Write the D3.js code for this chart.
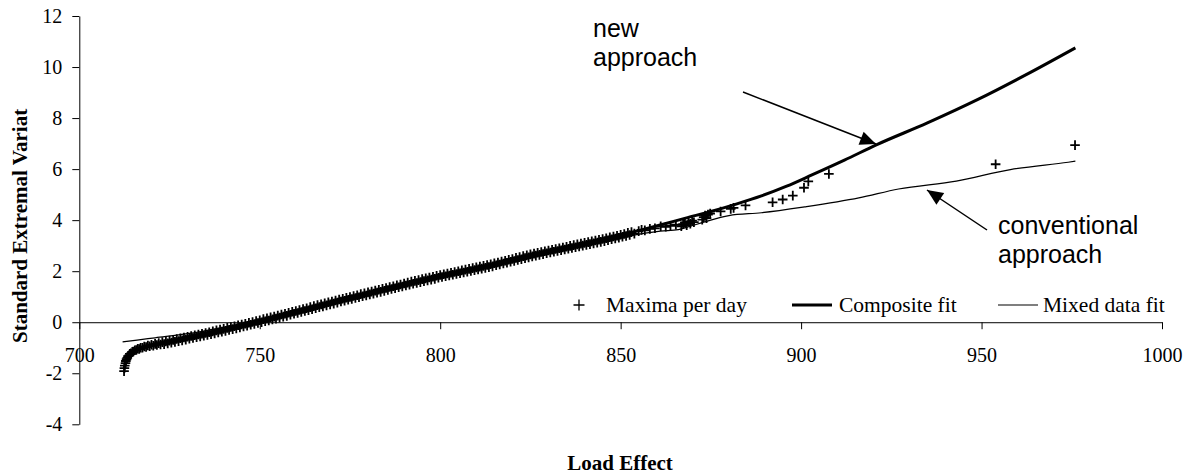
<!DOCTYPE html>
<html><head><meta charset="utf-8">
<script src="https://cdn.jsdelivr.net/npm/d3@7"></script>
<style>
html,body{margin:0;padding:0;background:#fff;}
svg{display:block;}
</style></head>
<body><svg id="chart" width="1195" height="475"></svg>
<script>
const xTicks = [700, 750, 800, 850, 900, 950, 1000];
const yTicks = [-4, -2, 0, 2, 4, 6, 8, 10, 12];
const xTitle = "Load Effect";
const yTitle = "Standard Extremal Variat";
const legendLabels = ["Maxima per day", "Composite fit", "Mixed data fit"];
const annotationNew = ["new", "approach"];
const annotationConv = ["conventional", "approach"];

// Maxima per day: [load effect, standard extremal variate]
const maximaPerDay = [
[712.4,-1.92],[712.5,-1.8],[712.6,-1.7],[712.8,-1.6],[712.9,-1.52],[713.1,-1.45],[713.3,-1.4],[713.5,-1.33],[713.8,-1.3],[714.0,-1.24],
[714.3,-1.22],[714.7,-1.16],[715.0,-1.15],[715.4,-1.1],[715.8,-1.09],[716.2,-1.04],[716.6,-1.05],[717.0,-1.0],[717.5,-1.0],[718.0,-0.95],
[718.5,-0.97],[719.0,-0.91],[719.5,-0.94],[720.0,-0.88],[720.5,-0.92],[721.0,-0.85],[721.5,-0.89],[722.0,-0.82],[722.5,-0.87],
[723,-0.78],[723.5,-0.86],[724,-0.75],[724.5,-0.83],[725,-0.72],[725.5,-0.80],[726,-0.69],[726.5,-0.77],[727,-0.66],[727.5,-0.74],
[728,-0.63],[728.5,-0.71],[729,-0.60],[729.5,-0.68],[730,-0.57],[730.5,-0.65],[731,-0.54],[731.5,-0.62],[732,-0.51],[732.5,-0.59],
[733,-0.48],[733.5,-0.56],[734,-0.45],[734.5,-0.53],[735,-0.42],[735.5,-0.50],[736,-0.39],[736.5,-0.47],[737,-0.36],[737.5,-0.44],
[738,-0.32],[738.5,-0.40],[739,-0.29],[739.5,-0.37],[740,-0.26],[740.5,-0.34],[741,-0.22],[741.5,-0.30],[742,-0.19],[742.5,-0.27],
[743,-0.16],[743.5,-0.24],[744,-0.12],[744.5,-0.20],[745,-0.09],[745.5,-0.17],[746,-0.06],[746.5,-0.14],[747,-0.02],[747.5,-0.10],
[748,0.01],[748.5,-0.07],[749,0.05],[749.5,-0.03],[750,0.08],[750.5,0.00],[751,0.12],[751.5,0.04],[752,0.15],[752.5,0.07],
[753,0.19],[753.5,0.11],[754,0.22],[754.5,0.14],[755,0.26],[755.5,0.18],[756,0.30],[756.5,0.22],[757,0.33],[757.5,0.25],
[758,0.37],[758.5,0.29],[759,0.41],[759.5,0.33],[760,0.44],[760.5,0.36],[761,0.48],[761.5,0.40],[762,0.52],[762.5,0.44],
[763,0.55],[763.5,0.47],[764,0.59],[764.5,0.51],[765,0.63],[765.5,0.55],[766,0.67],[766.5,0.59],[767,0.70],[767.5,0.62],
[768,0.74],[768.5,0.66],[769,0.78],[769.5,0.70],[770,0.81],[770.5,0.73],[771,0.85],[771.5,0.77],[772,0.89],[772.5,0.81],
[773,0.92],[773.5,0.84],[774,0.96],[774.5,0.88],[775,0.99],[775.5,0.91],[776,1.03],[776.5,0.95],[777,1.06],[777.5,0.98],
[778,1.10],[778.5,1.02],[779,1.13],[779.5,1.05],[780,1.17],[780.5,1.09],[781,1.20],[781.5,1.12],[782,1.24],[782.5,1.16],
[783,1.27],[783.5,1.19],[784,1.31],[784.5,1.23],[785,1.34],[785.5,1.26],[786,1.38],[786.5,1.30],[787,1.41],[787.5,1.33],
[788,1.45],[788.5,1.37],[789,1.48],[789.5,1.40],[790,1.52],[790.5,1.44],[791,1.55],[791.5,1.47],[792,1.59],[792.5,1.51],
[793,1.62],[793.5,1.54],[794,1.65],[794.5,1.57],[795,1.69],[795.5,1.61],[796,1.72],[796.5,1.64],[797,1.75],[797.5,1.67],
[798,1.78],[798.5,1.70],[799,1.82],[799.5,1.74],[800,1.85],[800.5,1.77],[801,1.88],[801.5,1.80],[802,1.91],[802.5,1.83],
[803,1.94],[803.5,1.86],[804,1.97],[804.5,1.89],[805,2.00],[805.5,1.92],[806,2.03],[806.5,1.95],[807,2.06],[807.5,1.98],
[808,2.09],[808.5,2.01],[809,2.12],[809.5,2.04],[810,2.15],[810.5,2.07],[811,2.18],[811.5,2.10],[812,2.21],[812.5,2.13],
[813,2.24],[813.5,2.16],[814,2.27],[814.5,2.19],[815,2.31],[815.5,2.23],[816,2.34],[816.5,2.26],[817,2.38],[817.5,2.30],
[818,2.41],[818.5,2.33],[819,2.45],[819.5,2.37],[820,2.48],[820.5,2.40],[821,2.52],[821.5,2.44],[822,2.55],[822.5,2.47],
[823,2.59],[823.5,2.51],[824,2.62],[824.5,2.54],[825,2.66],[825.5,2.58],[826,2.69],[826.5,2.61],[827,2.72],[827.5,2.64],
[828,2.75],[828.5,2.67],[829,2.78],[829.5,2.70],[830,2.81],[830.5,2.73],[831,2.84],[831.5,2.76],[832,2.87],[832.5,2.79],
[833,2.90],[833.5,2.82],[834,2.93],[834.5,2.85],[835,2.96],[835.5,2.88],[836,2.99],[836.5,2.91],[837,3.02],[837.5,2.94],
[838,3.05],[838.5,2.97],[839,3.08],[839.5,3.00],[840,3.11],[840.5,3.03],[841,3.14],[841.5,3.06],[842,3.17],[842.5,3.09],
[843,3.20],[843.5,3.12],[844,3.23],[844.5,3.15],[845,3.26],[845.5,3.18],[846,3.29],[846.5,3.21],[847,3.33],[847.5,3.25],
[848,3.36],[848.5,3.28],[849,3.39],[849.5,3.31],[850,3.43],[850.5,3.35],[851,3.46],[851.5,3.38],[852,3.50],[852.5,3.42],
[853,3.53],[853.8,3.47],[855,3.57],[855.8,3.62],[856.7,3.60],[858.1,3.66],[859.5,3.68],[861.1,3.76],[862.5,3.74],[863.8,3.78],
[865.3,3.82],[866.8,3.76],[867.3,3.84],[867.8,3.90],[868.3,3.80],[868.8,3.94],[869.3,3.86],[869.8,3.98],[870.3,3.92],[872.6,4.02],
[873.0,4.12],[873.4,4.18],[873.8,4.08],[874.2,4.22],[874.8,4.26],[877.7,4.34],[880.5,4.44],[881.3,4.48],[884.6,4.58],[892.1,4.70],
[894.9,4.81],[897.7,4.96],[900.8,5.27],[902.0,5.52],[907.7,5.81],[953.9,6.19],[975.9,6.94]
];

const compositeFit = [
[712.5,-1.8],[713,-1.5],[714,-1.28],[716,-1.08],[720,-0.92],[725,-0.77],[730,-0.62],[740,-0.3],[750,0.04],[760,0.4],
[770,0.77],[780,1.13],[790,1.48],[800,1.81],[810,2.11],[820,2.44],[830,2.77],[840,3.08],[850,3.42],[856,3.63],
[862,3.85],[868,4.08],[875,4.34],[882,4.63],[889,4.95],[896,5.33],[903,5.77],[912,6.35],[921,6.96],[935,7.81],
[949,8.73],[962.5,9.71],[976,10.75]
];

const mixedDataFit = [
[712,-0.77],[716,-0.7],[721,-0.61],[730,-0.45],[740,-0.2],[750,0.08],[760,0.42],[770,0.77],[780,1.12],[790,1.46],
[800,1.78],[810,2.08],[820,2.38],[825,2.52],[835,2.85],[845,3.15],[852,3.37],[861,3.57],[866,3.63],[869,3.75],
[873,3.92],[880,4.18],[889,4.29],[901,4.52],[916,4.87],[927,5.22],[943,5.53],[958,5.98],[974,6.27],[976,6.31]
];

const svg = d3.select("#chart");
svg.append("rect").attr("width",1195).attr("height",475).attr("fill","#fff");

const x = d3.scaleLinear().domain([700,1000]).range([79.3,1162]);
const y = d3.scaleLinear().domain([-4,12]).range([424.3,16]);
const serif = "'Liberation Serif','Times New Roman',serif";
const sans = "'Liberation Sans',Arial,sans-serif";

// Y axis
const yAxis = svg.append("g").attr("transform",`translate(${x(700)},0)`)
  .call(d3.axisLeft(y).tickValues(yTicks).tickSize(7).tickSizeOuter(0).tickPadding(10).tickFormat(d => String(d)));
yAxis.select(".domain").attr("stroke","#000").attr("stroke-width",1);
yAxis.selectAll(".tick line").attr("stroke","#000");
yAxis.selectAll("text").attr("font-family",serif).attr("font-size",20).attr("fill","#000");

// X axis at y = 0
const xAxis = svg.append("g").attr("transform",`translate(0,${y(0)})`)
  .call(d3.axisBottom(x).tickValues(xTicks).tickSize(7).tickSizeOuter(0).tickPadding(19).tickFormat(d => String(d)));
xAxis.select(".domain").attr("stroke","#000").attr("stroke-width",1);
xAxis.selectAll(".tick line").attr("stroke","#000");
xAxis.selectAll("text").attr("font-family",serif).attr("font-size",20).attr("fill","#000");

// Lines
const line = d3.line().x(d=>x(d[0])).y(d=>y(d[1])).curve(d3.curveMonotoneX);
svg.append("path").datum(mixedDataFit).attr("d",line).attr("fill","none").attr("stroke","#000").attr("stroke-width",1.2);
svg.append("path").datum(compositeFit).attr("d",line).attr("fill","none").attr("stroke","#000").attr("stroke-width",3);

// Markers
const mk = 4.8;
svg.append("g").selectAll("path").data(maximaPerDay).join("path")
  .attr("d", d => `M${x(d[0])-mk},${y(d[1])}h${2*mk}M${x(d[0])},${y(d[1])-mk}v${2*mk}`)
  .attr("stroke","#000").attr("stroke-width",1.8).attr("fill","none");

// Axis titles
svg.append("text").attr("x",620).attr("y",470).attr("text-anchor","middle")
  .attr("font-family",serif).attr("font-weight","bold").attr("font-size",21).text(xTitle);
svg.append("text").attr("transform","translate(27,343) rotate(-90)").attr("text-anchor","start")
  .attr("font-family",serif).attr("font-weight","bold").attr("font-size",21).text(yTitle);

// Legend
const ly = 305;
const lfs = 21.5;
const lg = svg.append("g");
lg.append("path").attr("d",`M${579-5.5},${ly}h11M579,${ly-5.5}v11`).attr("stroke","#000").attr("stroke-width",1.3);
lg.append("text").attr("x",606).attr("y",ly+7).attr("font-family",serif).attr("font-size",lfs).text(legendLabels[0]);
lg.append("line").attr("x1",792).attr("x2",832).attr("y1",ly).attr("y2",ly).attr("stroke","#000").attr("stroke-width",3);
lg.append("text").attr("x",839).attr("y",ly+7).attr("font-family",serif).attr("font-size",lfs).text(legendLabels[1]);
lg.append("line").attr("x1",998).attr("x2",1038).attr("y1",ly).attr("y2",ly).attr("stroke","#000").attr("stroke-width",1.2);
lg.append("text").attr("x",1043).attr("y",ly+7).attr("font-family",serif).attr("font-size",lfs).text(legendLabels[2]);

// Annotations
function arrow(x1,y1,x2,y2){
  svg.append("line").attr("x1",x1).attr("y1",y1).attr("x2",x2).attr("y2",y2).attr("stroke","#000").attr("stroke-width",1.5);
  const a = Math.atan2(y2-y1,x2-x1), L=16, W=7;
  const bx = x2 - L*Math.cos(a), by = y2 - L*Math.sin(a);
  const px = -Math.sin(a)*W, py = Math.cos(a)*W;
  svg.append("path").attr("d",`M${x2},${y2}L${bx+px},${by+py}L${bx-px},${by-py}Z`).attr("fill","#000");
}
arrow(743,92,876,144);
arrow(987,230,927,190);
const afs = 25;
function label(txt, xx, yy){
  svg.append("text").attr("x",xx).attr("y",yy).attr("font-family",sans).attr("font-size",afs).text(txt);
}
label(annotationNew[0], 593, 37);
label(annotationNew[1], 593, 66);
label(annotationConv[0], 998, 234);
label(annotationConv[1], 998, 263);
</script>
</body></html>
